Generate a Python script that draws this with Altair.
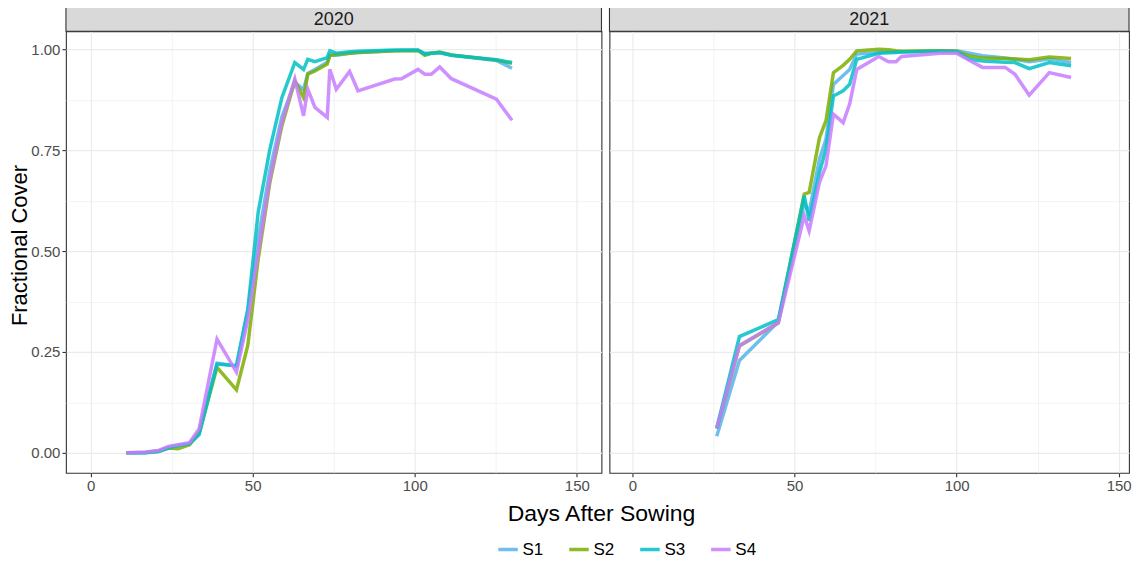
import altair as alt
import pandas as pd

FONT = "Liberation Sans"

series = ["S1", "S2", "S3", "S4"]
colors = ["#56B4E9", "#7CAE00", "#00BFC4", "#C77CFF"]

# ---- 2020 ----
days_2020 = [11, 17, 21, 24, 27, 30.5, 33.5, 39, 45, 48.5, 51.7, 55.3, 59, 63, 65.7,
             67, 69.2, 73, 73.8, 75.8, 79.9, 82.5, 93.8, 95.9, 101, 103.1, 105.1,
             107.7, 111.3, 125.2, 130]
s1_2020 = [0.000, 0.001, 0.005, 0.013, 0.018, 0.022, 0.052, 0.222, 0.215, 0.350,
           0.530, 0.700, 0.832, 0.918, 0.900, 0.940, 0.950, 0.968, 0.985, 0.985,
           0.990, 0.992, 0.996, 0.997, 0.997, 0.990, 0.990, 0.991, 0.985, 0.972, 0.953]
s2_2020 = [0.000, 0.001, 0.004, 0.012, 0.010, 0.020, 0.050, 0.212, 0.156, 0.266,
           0.480, 0.670, 0.810, 0.922, 0.880, 0.938, 0.946, 0.963, 0.985, 0.987,
           0.990, 0.992, 0.996, 0.996, 0.997, 0.985, 0.990, 0.993, 0.986, 0.973, 0.965]
s3_2020 = [0.000, 0.000, 0.003, 0.012, 0.018, 0.022, 0.045, 0.220, 0.216, 0.356,
           0.596, 0.752, 0.880, 0.967, 0.950, 0.975, 0.969, 0.979, 0.996, 0.990,
           0.994, 0.995, 0.998, 0.998, 0.998, 0.988, 0.990, 0.992, 0.985, 0.974, 0.967]
s4_2020 = [0.000, 0.002, 0.006, 0.016, 0.020, 0.025, 0.060, 0.282, 0.200, 0.330,
           0.497, 0.678, 0.818, 0.926, 0.835, 0.901, 0.856, 0.831, 0.950, 0.901,
           0.945, 0.897, 0.926, 0.927, 0.950, 0.938, 0.938, 0.956, 0.927, 0.876, 0.824]

# ---- 2021 ----
days_2021 = [26, 33, 45, 53, 54.5, 57.7, 59.7, 62, 65, 67, 69.2, 76, 79, 81.3, 83,
             95, 100, 104, 108, 115, 118, 122.4, 128.6, 135.3]
s1_2021 = [0.041, 0.229, 0.325, 0.620, 0.596, 0.728, 0.777, 0.913, 0.935, 0.950,
           0.988, 0.992, 0.993, 0.993, 0.994, 0.996, 0.996, 0.990, 0.984, 0.978,
           0.975, 0.969, 0.976, 0.967]
s2_2021 = [0.060, 0.265, 0.322, 0.641, 0.645, 0.781, 0.823, 0.942, 0.960, 0.975,
           0.996, 1.000, 0.999, 0.996, 0.995, 0.996, 0.995, 0.983, 0.978, 0.977,
           0.976, 0.974, 0.981, 0.977]
s3_2021 = [0.061, 0.288, 0.330, 0.637, 0.575, 0.695, 0.752, 0.884, 0.897, 0.913,
           0.975, 0.990, 0.991, 0.992, 0.993, 0.995, 0.994, 0.975, 0.971, 0.968,
           0.967, 0.952, 0.967, 0.959]
s4_2021 = [0.061, 0.266, 0.322, 0.587, 0.550, 0.670, 0.711, 0.839, 0.818, 0.864,
           0.950, 0.982, 0.969, 0.969, 0.982, 0.990, 0.990, 0.972, 0.955, 0.955,
           0.938, 0.886, 0.942, 0.930]

x_ticks = [0, 25, 50, 75, 100, 125, 150]
y_ticks = [0, 0.125, 0.25, 0.375, 0.5, 0.625, 0.75, 0.875, 1.0]


def to_long(days, vals_list):
    rows = []
    for s, vals in zip(series, vals_list):
        for d, v in zip(days, vals):
            rows.append({"Days": d, "Cover": v, "Series": s})
    return pd.DataFrame(rows)


df20 = to_long(days_2020, [s1_2020, s2_2020, s3_2020, s4_2020])
df21 = to_long(days_2021, [s1_2021, s2_2021, s3_2021, s4_2021])

color_scale = alt.Scale(domain=series, range=colors)

legend = alt.Legend(
    title=None, orient="none", legendX=431, legendY=507, direction="horizontal",
    symbolType="stroke", symbolStrokeWidth=3.5, symbolSize=380, symbolOpacity=0.85,
    labelFont=FONT, labelFontSize=17, labelColor="#000000", labelOffset=3,
    columnPadding=18,
)

major_x = "datum.value % 50 == 0"
major_y = "datum.value * 4 % 1 == 0"


def panel(df, year, width, xdomain, left):
    x_axis = alt.Axis(
        values=x_ticks,
        labelExpr=f"{major_x} ? datum.label : ''",
        gridColor="#ebebeb",
        gridWidth={"condition": {"test": major_x, "value": 1.2}, "value": 0.6},
        tickColor={"condition": {"test": major_x, "value": "#333333"}, "value": "transparent"},
        tickSize=4, tickWidth=1.1, domain=False,
        labelFont=FONT, labelFontSize=15, labelColor="#4d4d4d", labelPadding=2,
        title="Days After Sowing" if left else None,
        titleFont=FONT, titleFontSize=23, titleFontWeight="normal", titleColor="#000000",
        titleX=535.5, titleY=47.7, titleBaseline="alphabetic", titleAlign="center",
    )
    if left:
        y_axis = alt.Axis(
            values=y_ticks,
            labelExpr=f"{major_y} ? format(datum.value, '.2f') : ''",
            gridColor="#ebebeb",
            gridWidth={"condition": {"test": major_y, "value": 1.2}, "value": 0.6},
            tickColor={"condition": {"test": major_y, "value": "#333333"}, "value": "transparent"},
            tickSize=4, tickWidth=1.1, domain=False,
            labelFont=FONT, labelFontSize=15, labelColor="#4d4d4d", labelPadding=2,
            title="Fractional Cover", titleFont=FONT, titleFontSize=22,
            titleFontWeight="normal", titleColor="#000000",
            titleX=-39.7, titleY=214, titleBaseline="alphabetic", titleAlign="center",
            titleAngle=270,
        )
    else:
        y_axis = alt.Axis(
            values=y_ticks, labels=False, ticks=False, domain=False, title=None,
            gridColor="#ebebeb",
            gridWidth={"condition": {"test": major_y, "value": 1.2}, "value": 0.6},
        )

    lines = alt.Chart(df).mark_line(strokeWidth=3.5, opacity=0.85).encode(
        x=alt.X("Days:Q", scale=alt.Scale(domain=xdomain, nice=False, zero=False), axis=x_axis),
        y=alt.Y("Cover:Q", scale=alt.Scale(domain=[-0.0495, 1.0446], nice=False, zero=False), axis=y_axis),
        color=alt.Color("Series:N", scale=color_scale, legend=legend),
    )
    strip_df = pd.DataFrame({"label": [year]})
    strip = alt.Chart(strip_df).mark_rect(fill="#d9d9d9", stroke="#333333", strokeWidth=1.1).encode(
        x=alt.value(0), x2=alt.value(width), y=alt.value(-24), y2=alt.value(0)
    )
    strip_text = alt.Chart(strip_df).mark_text(
        font=FONT, fontSize=18, color="#1a1a1a", baseline="alphabetic", align="center"
    ).encode(x=alt.value(width / 2), y=alt.value(-6), text="label:N")
    return alt.layer(lines, strip, strip_text).properties(width=width, height=442)


left = panel(df20, "2020", 536, [-7.6, 157.6], True)
right = panel(df21, "2021", 520, [-7.09, 153.18], False)

chart = alt.hconcat(left, right, spacing=8, bounds="flush").resolve_scale(
    color="shared"
).properties(
    padding={"left": -1, "top": -3, "right": 0, "bottom": 0}
).configure_view(
    stroke="#333333", strokeWidth=1.1
)

chart.save("out.html", embed_options={"renderer": "svg", "actions": False})
